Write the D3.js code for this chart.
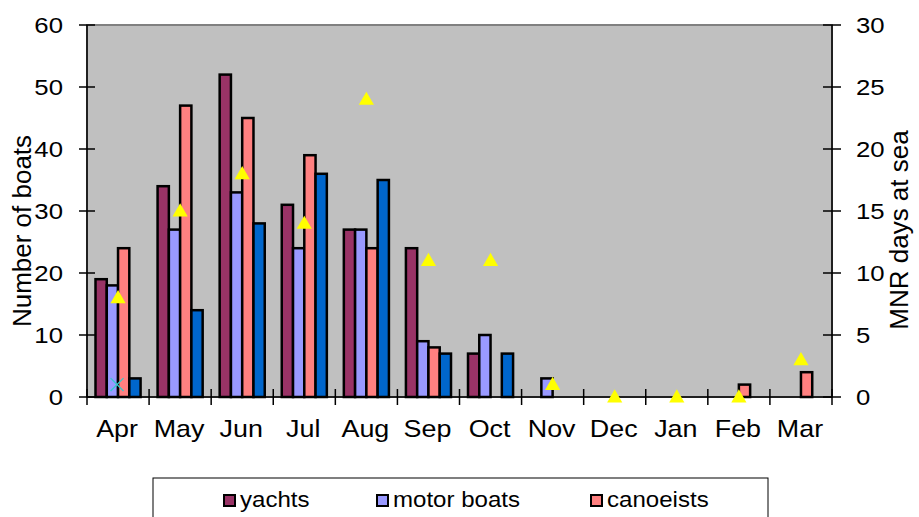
<!DOCTYPE html>
<html>
<head>
<meta charset="utf-8">
<script src="https://cdn.jsdelivr.net/npm/d3@7"></script>
<style>
  body { margin: 0; background: #fff; }
  text { font-family: "Liberation Sans", Arial, sans-serif; fill: #000; }
</style>
</head>
<body>
<script>
// data
var months = ['Apr', 'May', 'Jun', 'Jul', 'Aug', 'Sep', 'Oct', 'Nov', 'Dec', 'Jan', 'Feb', 'Mar'];
var yachts = [19, 34, 52, 31, 27, 24, 7, 0, 0, 0, 0, 0];
var motorBoats = [18, 27, 33, 24, 27, 9, 10, 3, 0, 0, 0, 0];
var canoeists = [24, 47, 45, 39, 24, 8, 0, 0, 0, 0, 2, 4];
var otherCraft = [3, 14, 28, 36, 35, 7, 7, 0, 0, 0, 0, 0];
var mnrDays = [8, 15, 18, 14, 24, 11, 11, 1, 0, 0, 0, 3];
var mnrCross = [1, null, null, null, null, null, null, null, null, null, null, null];
var leftTicks = [0, 10, 20, 30, 40, 50, 60];
var rightTicks = [0, 5, 10, 15, 20, 25, 30];
var legendNames = ['yachts', 'motor boats', 'canoeists'];

var barSeries = [
    { key: 'yachts', values: yachts, color: '#993366' },
    { key: 'motor boats', values: motorBoats, color: '#9999FF' },
    { key: 'canoeists', values: canoeists, color: '#FF8080' },
    { key: 'other', values: otherCraft, color: '#0066CC' }
];

var width = 919, height = 517;
var plotLeft = 87, plotRight = 832, plotTop = 25, plotBottom = 397;
var stretch = 1.12; // text in the picture is a little wide

var svg = d3.select('body').append('svg').attr('width', width).attr('height', height);

var x0 = d3.scaleBand().domain(months).range([plotLeft, plotRight]);
var x1 = d3.scaleBand().domain(barSeries.map(function (s) { return s.key; }))
    .range([8.5, x0.bandwidth() - 8.5]);
var yLeft = d3.scaleLinear().domain([0, 60]).range([plotBottom, plotTop]);
var yRight = d3.scaleLinear().domain([0, 30]).range([plotBottom, plotTop]);

function addText(g, x, y, str, size, anchor) {
    return g.append('text')
        .attr('transform', 'translate(' + x + ',' + y + ') scale(' + stretch + ',1)')
        .attr('text-anchor', anchor)
        .attr('font-size', size)
        .text(str);
}

// plot area
svg.append('rect')
    .attr('x', plotLeft).attr('y', plotTop)
    .attr('width', plotRight - plotLeft).attr('height', plotBottom - plotTop)
    .attr('fill', '#C0C0C0')
    .attr('stroke', '#808080').attr('stroke-width', 2);

// bars
var groups = svg.append('g').selectAll('g')
    .data(months)
    .enter().append('g')
    .attr('transform', function (m) { return 'translate(' + x0(m) + ',0)'; });

groups.selectAll('rect')
    .data(function (m, i) {
        return barSeries.map(function (s) { return { key: s.key, color: s.color, v: s.values[i] }; })
            .filter(function (d) { return d.v > 0; });
    })
    .enter().append('rect')
    .attr('x', function (d) { return x1(d.key); })
    .attr('y', function (d) { return yLeft(d.v); })
    .attr('width', x1.bandwidth())
    .attr('height', function (d) { return plotBottom - yLeft(d.v); })
    .attr('fill', function (d) { return d.color; })
    .attr('stroke', '#000')
    .attr('stroke-width', 2.5);

// axes lines
var axes = svg.append('g').attr('stroke', '#000').attr('stroke-width', 1.5);
axes.append('line').attr('x1', plotLeft).attr('x2', plotLeft).attr('y1', plotTop).attr('y2', plotBottom);
axes.append('line').attr('x1', plotRight).attr('x2', plotRight).attr('y1', plotTop).attr('y2', plotBottom);
axes.append('line').attr('x1', plotLeft).attr('x2', plotRight).attr('y1', plotBottom).attr('y2', plotBottom);

// left ticks
leftTicks.forEach(function (t) {
    axes.append('line').attr('x1', plotLeft - 8).attr('x2', plotLeft + 8)
        .attr('y1', yLeft(t)).attr('y2', yLeft(t));
    addText(svg, 63, yLeft(t) + 8, t, 23, 'end');
});

// right ticks
rightTicks.forEach(function (t) {
    axes.append('line').attr('x1', plotRight - 9).attr('x2', plotRight + 9)
        .attr('y1', yRight(t)).attr('y2', yRight(t));
    addText(svg, 856, yRight(t) + 8, t, 23, 'start');
});

// x ticks and labels
months.forEach(function (m) {
    axes.append('line').attr('x1', x0(m)).attr('x2', x0(m))
        .attr('y1', plotBottom - 8).attr('y2', plotBottom + 8);
    addText(svg, x0(m) + x0.bandwidth() / 2 - 1, 437, m, 24, 'middle');
});
axes.append('line').attr('x1', plotRight).attr('x2', plotRight)
    .attr('y1', plotBottom - 8).attr('y2', plotBottom + 8);

// MNR days triangles
var tri = d3.symbol().type(d3.symbolTriangle).size(100);
svg.append('g').selectAll('path')
    .data(mnrDays)
    .enter().append('path')
    .attr('d', tri)
    .attr('transform', function (d, i) {
        return 'translate(' + (x0(months[i]) + x0.bandwidth() / 2) + ',' + (yRight(d) + 1) + ')';
    })
    .attr('fill', '#FFFF00');

// cross marker
var cross = d3.symbol().type(d3.symbolX).size(110);
svg.append('g').selectAll('path')
    .data(mnrCross.map(function (v, i) { return { v: v, m: months[i] }; })
        .filter(function (d) { return d.v !== null; }))
    .enter().append('path')
    .attr('d', cross)
    .attr('transform', function (d) {
        return 'translate(' + (x0(d.m) + x0.bandwidth() / 2 - 1) + ',' + yRight(d.v) + ')';
    })
    .attr('fill', 'none')
    .attr('stroke', '#33CCCC')
    .attr('stroke-width', 1.3);

// axis titles
svg.append('text')
    .attr('transform', 'translate(31,231) rotate(-90)')
    .attr('text-anchor', 'middle')
    .attr('font-size', 26)
    .text('Number  of boats');

svg.append('text')
    .attr('transform', 'translate(908,230) rotate(-90)')
    .attr('text-anchor', 'middle')
    .attr('font-size', 26)
    .text('MNR days at sea');

// legend
var legend = svg.append('g');
legend.append('rect')
    .attr('x', 153).attr('y', 478)
    .attr('width', 615).attr('height', 60)
    .attr('fill', '#fff')
    .attr('stroke', '#000').attr('stroke-width', 1);

var legendX = [224, 377, 591];
legendNames.forEach(function (name, i) {
    legend.append('rect')
        .attr('x', legendX[i]).attr('y', 495)
        .attr('width', 11).attr('height', 11)
        .attr('fill', barSeries[i].color)
        .attr('stroke', '#000').attr('stroke-width', 2);
    addText(legend, legendX[i] + 16, 507, name, 21.5, 'start');
});
</script>
</body>
</html>
